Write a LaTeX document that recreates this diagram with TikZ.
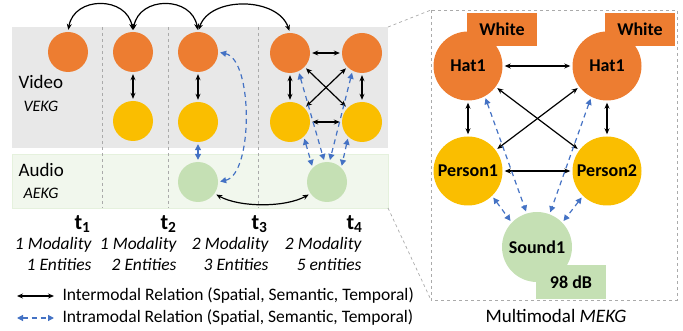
\documentclass[tikz,border=0pt]{standalone}
\usepackage{fontspec}
\setmainfont{Carlito}
\usetikzlibrary{arrows.meta, positioning, backgrounds, calc}
\definecolor{hatorange}{RGB}{237, 125, 49}
\definecolor{personyellow}{RGB}{250, 190, 0}
\definecolor{soundgreen}{RGB}{197, 224, 180}
\definecolor{videogray}{RGB}{232, 232, 232}
\definecolor{audiogreen}{RGB}{241, 247, 237}
\definecolor{intrablue}{RGB}{68, 114, 196}
\definecolor{sepgray}{RGB}{170, 170, 170}

\begin{document}
\begin{tikzpicture}[x=1pt, y=-1pt,
  hat/.style={circle, fill=hatorange, minimum size=40pt, inner sep=0pt},
  person/.style={circle, fill=personyellow, minimum size=40pt, inner sep=0pt},
  sound/.style={circle, fill=soundgreen, minimum size=40pt, inner sep=0pt},
  bighat/.style={hat, minimum size=69pt, font=\fontsize{18}{20}\selectfont\bfseries},
  bigperson/.style={person, minimum size=69pt, font=\fontsize{18}{20}\selectfont\bfseries},
  bigsound/.style={sound, minimum size=70pt, font=\fontsize{18}{20}\selectfont\bfseries},
  tagbox/.style={rectangle, minimum width=70pt, minimum height=33pt, inner sep=0pt, font=\fontsize{18}{20}\selectfont\bfseries},
  sep/.style={sepgray, dashed, line width=0.8pt},
  tlabel/.style={anchor=east, font=\fontsize{22}{24}\selectfont\bfseries},
  stats/.style={anchor=east, align=right, font=\fontsize{17.5}{21}\selectfont\itshape},
  inter/.style={{Stealth[length=6pt, width=5pt]}-{Stealth[length=6pt, width=5pt]}, line width=1.2pt, black, shorten <=2pt, shorten >=2pt},
  intra/.style={{Triangle[length=6pt, width=6pt]}-{Triangle[length=6pt, width=6pt]}, line width=1.2pt, intrablue, dash pattern=on 5pt off 4pt, shorten <=2pt, shorten >=2pt}
]
\useasboundingbox (0,0) rectangle (683,331);

% Modality bands
\fill[videogray] (12,27) rectangle (388,148);
\filldraw[fill=audiogreen, draw=soundgreen!45] (12,154) rectangle (388,208);
\draw[sep] (102,27) -- (102,208);
\draw[sep] (168,27) -- (168,208);
\draw[sep] (258,27) -- (258,208);

\node[anchor=west, font=\fontsize{19}{21}\selectfont] (videoLbl) at (15,82) {Video};
\node[anchor=west, font=\fontsize{16}{18}\selectfont\itshape] (vekgLbl) at (20,106) {VEKG};
\node[anchor=west, font=\fontsize{19}{21}\selectfont] (audioLbl) at (15,170) {Audio};
\node[anchor=west, font=\fontsize{16}{18}\selectfont\itshape] (aekgLbl) at (20,193) {AEKG};

% Entities per time step
\node[hat] (o1) at (68,52) {};
\node[hat] (o2) at (133,52) {};
\node[person] (y2) at (133,121) {};
\node[hat] (o3) at (198,52) {};
\node[person] (y3) at (198,122) {};
\node[sound] (g3) at (198,182) {};
\node[hat] (o4a) at (290,53) {};
\node[hat] (o4b) at (362,53) {};
\node[person] (y4a) at (290,122) {};
\node[person] (y4b) at (362,122) {};
\node[sound] (g4) at (327,182) {};

% Temporal links
\draw[inter] (o1.north) .. controls +(6,-36) and +(-6,-36) .. (o2.north);
\draw[inter] (o2.north) .. controls +(6,-36) and +(-6,-36) .. (o3.north);
\draw[inter] (o3.north) .. controls +(12,-36) and +(-12,-36) .. (o4a.north);
\draw[inter] (g3.-35) .. controls +(25,14) and +(-25,14) .. (g4.-145);

% Links inside each time step
\draw[inter] (o2) -- (y2);
\draw[inter] (o3) -- (y3);
\draw[intra] (y3) -- (g3);
\draw[intra] (g3.east) .. controls +(35,-8) and +(35,8) .. (o3.east);
\draw[inter] (o4a) -- (o4b);
\draw[inter] (y4a) -- (y4b);
\draw[inter] (o4a) -- (y4a);
\draw[inter] (o4b) -- (y4b);
\draw[inter] (o4a) -- (y4b);
\draw[inter] (o4b) -- (y4a);
\draw[intra] (y4a.-47) -- (g4.135);
\draw[intra] (y4b.-133) -- (g4.45);
\draw[intra] (o4a.-65) -- (g4.97);
\draw[intra] (o4b.-118) -- (g4.83);

% Time step labels
\node[tlabel] (t1) at (94,224) {t\textsubscript{1}};
\node[tlabel] (t2) at (180,224) {t\textsubscript{2}};
\node[tlabel] (t3) at (271,224) {t\textsubscript{3}};
\node[tlabel] (t4) at (366,224) {t\textsubscript{4}};
\node[stats] (s1) at (95,254) {1 Modality\\1 Entities};
\node[stats] (s2) at (180,254) {1 Modality\\2 Entities};
\node[stats] (s3) at (272,254) {2 Modality\\3 Entities};
\node[stats] (s4) at (365,254) {2 Modality\\5 entities};

% Legend
\coordinate (interA) at (17,296);
\coordinate (interB) at (54,296);
\coordinate (intraA) at (17,318);
\coordinate (intraB) at (54,318);
\draw[inter, shorten <=0pt, shorten >=0pt] (interA) -- (interB);
\draw[intra, shorten <=0pt, shorten >=0pt] (intraA) -- (intraB);
\node[anchor=west, font=\fontsize{17.5}{20}\selectfont] (interTxt) at (59,296) {Intermodal Relation (Spatial, Semantic, Temporal)};
\node[anchor=west, font=\fontsize{17.5}{20}\selectfont] (intraTxt) at (59,318) {Intramodal Relation (Spatial, Semantic, Temporal)};

% Multimodal graph
\draw[sep, line width=0.7pt] (431,10) rectangle (677,300);
\draw[sep, line width=0.7pt] (388,27) -- (431,10);
\draw[sep, line width=0.7pt] (388,208) -- (431,300);

\node[tagbox, fill=hatorange] (whiteA) at (502,29.5) {White};
\node[tagbox, fill=hatorange] (whiteB) at (640,29.5) {White};
\node[bighat] (hatA) at (468,66) {Hat1};
\node[bighat] (hatB) at (607,66) {Hat1};
\node[bigperson] (perA) at (468,171) {Person1};
\node[bigperson] (perB) at (607,171) {Person2};
\node[bigsound] (snd) at (537,247) {Sound1};
\node[tagbox, fill=soundgreen] (dbTag) at (571,282) {98 dB};

\draw[inter] (hatA) -- (hatB);
\draw[inter] (perA) -- (perB);
\draw[inter] (hatA) -- (perA);
\draw[inter] (hatB) -- (perB);
\draw[inter] (hatA) -- (perB);
\draw[inter] (hatB) -- (perA);
\draw[intra] (hatA.-61) -- (snd.107);
\draw[intra] (hatB.-117) -- (snd.69);
\draw[intra] (perA.-46) -- (snd.136);
\draw[intra] (perB.-134) -- (snd.44);

\node[font=\fontsize{19}{21}\selectfont] (mekgLbl) at (556,316) {Multimodal \textit{MEKG}};
\end{tikzpicture}
\end{document}
